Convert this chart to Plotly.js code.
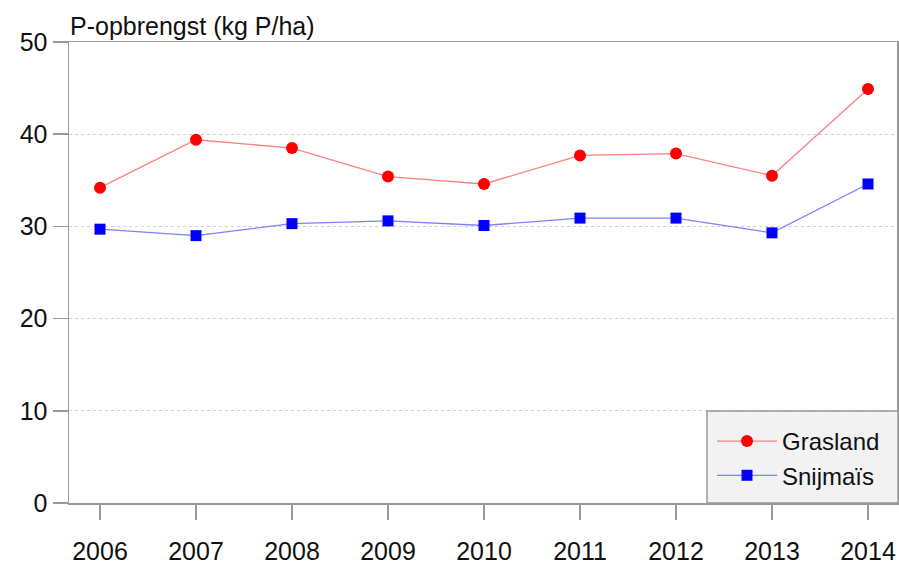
<!DOCTYPE html>
<html>
<head>
<meta charset="utf-8">
<script src="https://cdn.plot.ly/plotly-3.0.1.min.js"></script>
<style>html,body{margin:0;padding:0;background:#fff;}#chart{width:899px;height:563px;}</style>
</head>
<body>
<div id="chart"></div>
<script>
const years = [2006, 2007, 2008, 2009, 2010, 2011, 2012, 2013, 2014];
const grasland = [34.2, 39.4, 38.5, 35.4, 34.6, 37.7, 37.9, 35.5, 44.9];
const snijmais = [29.7, 29.0, 30.3, 30.6, 30.1, 30.9, 30.9, 29.3, 34.6];
const yTicks = [0, 10, 20, 30, 40, 50];
const seriesNames = ['Grasland', 'Snijmaïs'];

const W = 899, H = 563;
const L = 69, R = 2, T = 42, B = 60;
const pw = W - L - R, ph = H - T - B;
const px2x = p => (p - L) / pw;
const py2y = p => (H - B - p) / ph;

const font = 'Liberation Sans, Arial, sans-serif';

const traces = [
  {
    x: years, y: grasland, name: seriesNames[0], type: 'scatter', mode: 'lines+markers',
    line: {color: '#ff8080', width: 1.3},
    marker: {color: '#ff0000', size: 12, symbol: 'circle'}
  },
  {
    x: years, y: snijmais, name: seriesNames[1], type: 'scatter', mode: 'lines+markers',
    line: {color: '#8080ff', width: 1.3},
    marker: {color: '#0000ff', size: 11, symbol: 'square'}
  }
];

const layout = {
  width: W, height: H,
  margin: {l: L, r: R, t: T, b: B, pad: 0},
  paper_bgcolor: '#fff', plot_bgcolor: '#fff',
  font: {family: font, color: '#111', size: 25},
  title: {
    text: 'P-opbrengst (kg P/ha)',
    font: {family: font, size: 25, color: '#111'},
    x: px2x(70), xref: 'paper', xanchor: 'left',
    y: 1 - 26 / H, yref: 'container', yanchor: 'middle'
  },
  showlegend: true,
  legend: {
    x: px2x(712), xanchor: 'left', xref: 'paper',
    y: py2y(419), yanchor: 'top', yref: 'paper',
    bgcolor: 'rgba(0,0,0,0)', borderwidth: 0,
    font: {family: font, size: 24, color: '#111'},
    itemwidth: 60, tracegroupgap: 0
  },
  xaxis: {
    range: [2006 - 31 / 96, 2014 + 29 / 96],
    tickmode: 'array', tickvals: years, ticktext: years.map(String),
    ticks: 'outside', ticklen: 15, tickcolor: '#999', tickwidth: 1.5,
    ticklabelstandoff: 10,
    showline: true, linecolor: '#999', linewidth: 1.5, mirror: true,
    showgrid: false, zeroline: false,
    tickfont: {family: font, size: 25, color: '#111'}
  },
  yaxis: {
    range: [0, 50],
    tickmode: 'array', tickvals: yTicks,
    ticks: 'outside', ticklen: 15, tickcolor: '#999', tickwidth: 1.5,
    showline: true, linecolor: '#999', linewidth: 1.5, mirror: true,
    showgrid: true, gridcolor: '#d0d0d0', gridwidth: 1, griddash: 'dot',
    zeroline: false,
    tickfont: {family: font, size: 25, color: '#111'}
  },
  shapes: [
    {
      type: 'rect', xref: 'paper', yref: 'paper', layer: 'above',
      x0: px2x(707), x1: px2x(898), y0: py2y(411), y1: py2y(503),
      fillcolor: '#f2f2f2', line: {color: '#999', width: 1.5}
    }
  ]
};

Plotly.newPlot('chart', traces, layout, {displayModeBar: false, staticPlot: true});
</script>
</body>
</html>
